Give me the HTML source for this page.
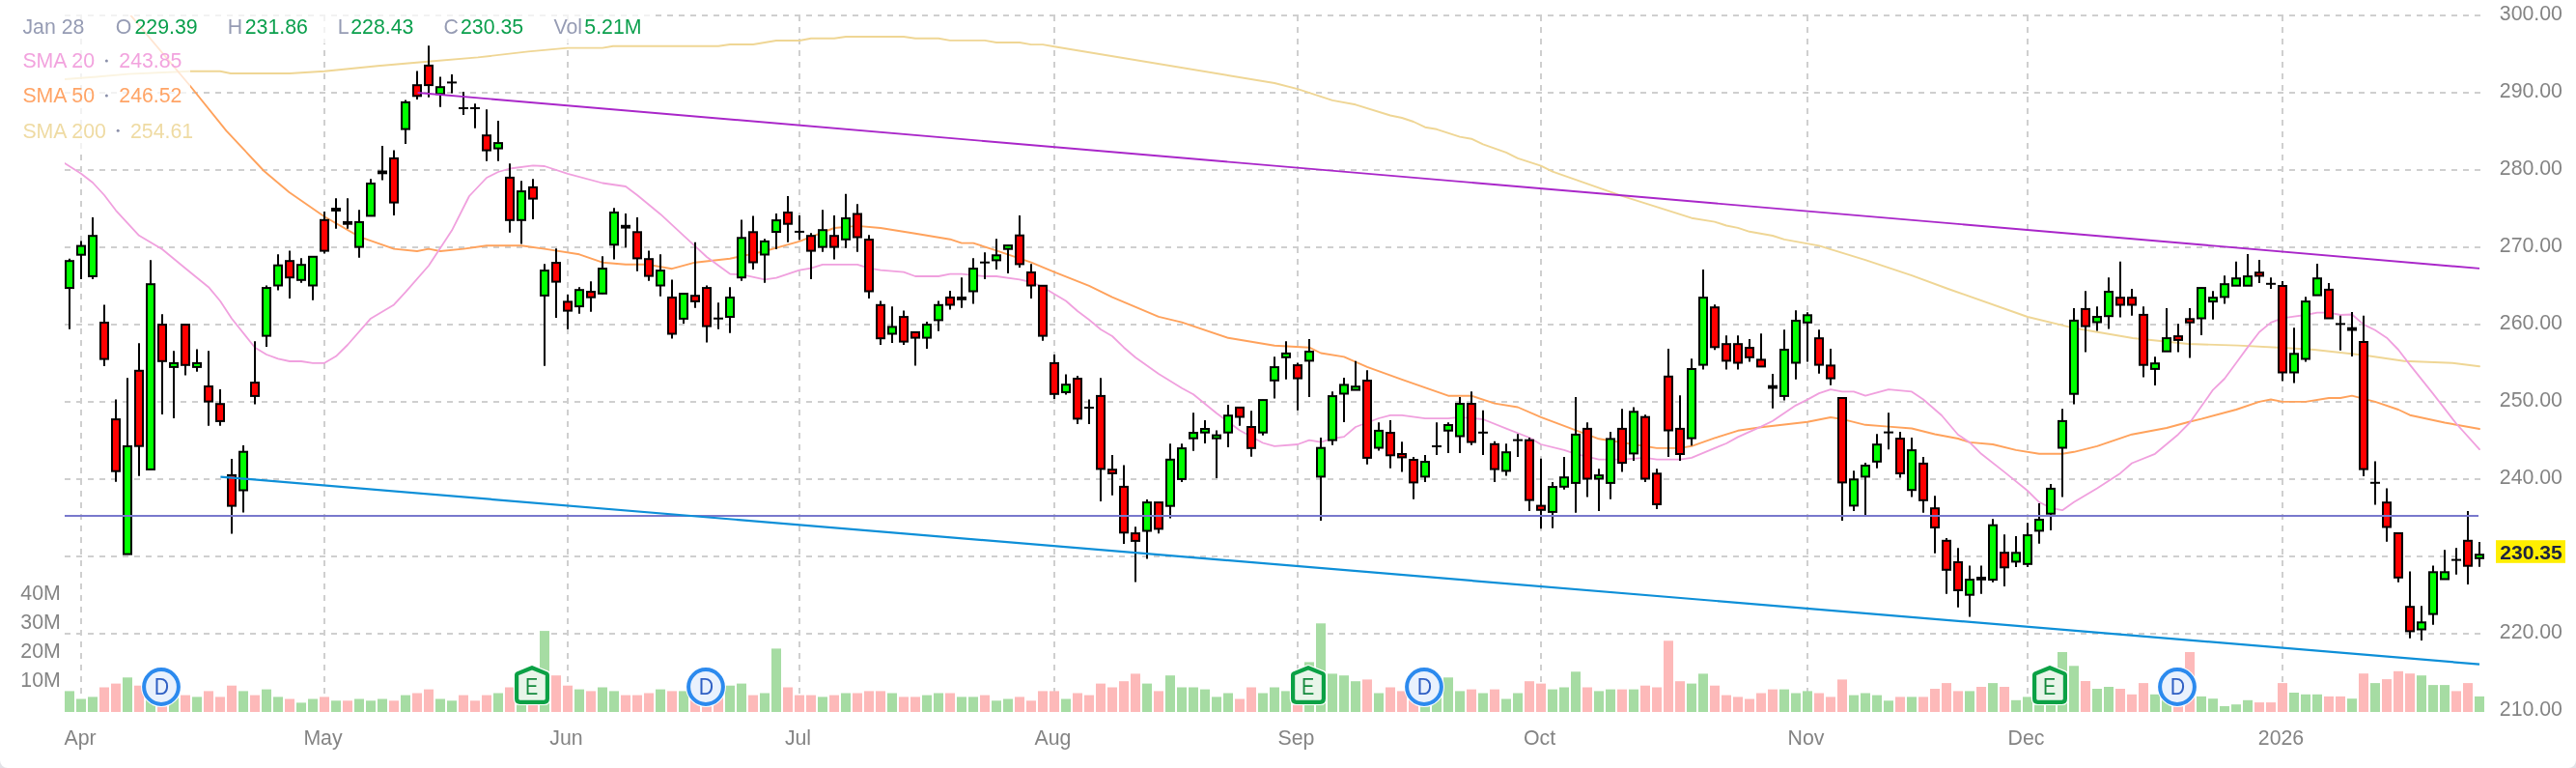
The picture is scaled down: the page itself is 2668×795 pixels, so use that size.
<!DOCTYPE html>
<html><head><meta charset="utf-8"><title>Chart</title><style>html,body{margin:0;padding:0;background:#fff;}body{width:2668px;height:795px;overflow:hidden;}svg{display:block;will-change:transform;}text{font-family:"Liberation Sans",sans-serif;font-size:21.3px;}</style></head><body>
<svg width="2668" height="795" viewBox="0 0 2668 795">
<rect x="0" y="0" width="2668" height="795" fill="#fff"/>
<g stroke="#cfcfcf" stroke-width="2" stroke-dasharray="6 6" fill="none">
<path d="M67 16H2569"/>
<path d="M67 96H2569"/>
<path d="M67 176H2569"/>
<path d="M67 256H2569"/>
<path d="M67 336H2569"/>
<path d="M67 416H2569"/>
<path d="M67 496H2569"/>
<path d="M67 576H2569"/>
<path d="M67 656H2569"/>
<path d="M84 16V737"/>
<path d="M336 16V737"/>
<path d="M588 16V737"/>
<path d="M828 16V737"/>
<path d="M1092 16V737"/>
<path d="M1344 16V737"/>
<path d="M1596 16V737"/>
<path d="M1872 16V737"/>
<path d="M2100 16V737"/>
<path d="M2364 16V737"/>
</g>
<g>
<rect x="67" y="715.4" width="10" height="21.6" fill="#a6dca3"/>
<rect x="79" y="723.5" width="10" height="13.5" fill="#a6dca3"/>
<rect x="91" y="721.4" width="10" height="15.6" fill="#a6dca3"/>
<rect x="103" y="711.5" width="10" height="25.5" fill="#fdb9b9"/>
<rect x="115" y="707.6" width="10" height="29.4" fill="#fdb9b9"/>
<rect x="127" y="701.3" width="10" height="35.7" fill="#a6dca3"/>
<rect x="139" y="709.7" width="10" height="27.3" fill="#fdb9b9"/>
<rect x="151" y="723.0" width="10" height="14.0" fill="#a6dca3"/>
<rect x="163" y="723.0" width="10" height="14.0" fill="#fdb9b9"/>
<rect x="175" y="722.0" width="10" height="15.0" fill="#a6dca3"/>
<rect x="187" y="719.6" width="10" height="17.4" fill="#fdb9b9"/>
<rect x="199" y="721.4" width="10" height="15.6" fill="#a6dca3"/>
<rect x="211" y="715.4" width="10" height="21.6" fill="#fdb9b9"/>
<rect x="223" y="721.4" width="10" height="15.6" fill="#fdb9b9"/>
<rect x="235" y="709.7" width="10" height="27.3" fill="#fdb9b9"/>
<rect x="247" y="715.4" width="10" height="21.6" fill="#a6dca3"/>
<rect x="259" y="719.6" width="10" height="17.4" fill="#fdb9b9"/>
<rect x="271" y="713.6" width="10" height="23.4" fill="#a6dca3"/>
<rect x="283" y="721.4" width="10" height="15.6" fill="#a6dca3"/>
<rect x="295" y="723.5" width="10" height="13.5" fill="#fdb9b9"/>
<rect x="307" y="727.4" width="10" height="9.6" fill="#a6dca3"/>
<rect x="319" y="723.5" width="10" height="13.5" fill="#a6dca3"/>
<rect x="331" y="721.4" width="10" height="15.6" fill="#fdb9b9"/>
<rect x="343" y="725.3" width="10" height="11.7" fill="#a6dca3"/>
<rect x="355" y="725.3" width="10" height="11.7" fill="#fdb9b9"/>
<rect x="367" y="723.5" width="10" height="13.5" fill="#a6dca3"/>
<rect x="379" y="725.3" width="10" height="11.7" fill="#a6dca3"/>
<rect x="391" y="723.5" width="10" height="13.5" fill="#a6dca3"/>
<rect x="403" y="725.3" width="10" height="11.7" fill="#fdb9b9"/>
<rect x="415" y="719.6" width="10" height="17.4" fill="#a6dca3"/>
<rect x="427" y="717.5" width="10" height="19.5" fill="#fdb9b9"/>
<rect x="439" y="713.6" width="10" height="23.4" fill="#fdb9b9"/>
<rect x="451" y="723.5" width="10" height="13.5" fill="#a6dca3"/>
<rect x="463" y="725.3" width="10" height="11.7" fill="#a6dca3"/>
<rect x="475" y="719.6" width="10" height="17.4" fill="#fdb9b9"/>
<rect x="487" y="725.3" width="10" height="11.7" fill="#fdb9b9"/>
<rect x="499" y="719.6" width="10" height="17.4" fill="#fdb9b9"/>
<rect x="511" y="717.5" width="10" height="19.5" fill="#a6dca3"/>
<rect x="523" y="711.5" width="10" height="25.5" fill="#fdb9b9"/>
<rect x="535" y="719.0" width="10" height="18.0" fill="#a6dca3"/>
<rect x="547" y="722.0" width="10" height="15.0" fill="#fdb9b9"/>
<rect x="559" y="653.1" width="10" height="83.9" fill="#a6dca3"/>
<rect x="571" y="699.2" width="10" height="37.8" fill="#fdb9b9"/>
<rect x="583" y="709.7" width="10" height="27.3" fill="#fdb9b9"/>
<rect x="595" y="713.6" width="10" height="23.4" fill="#a6dca3"/>
<rect x="607" y="715.4" width="10" height="21.6" fill="#fdb9b9"/>
<rect x="619" y="711.5" width="10" height="25.5" fill="#a6dca3"/>
<rect x="631" y="715.4" width="10" height="21.6" fill="#a6dca3"/>
<rect x="643" y="719.6" width="10" height="17.4" fill="#fdb9b9"/>
<rect x="655" y="719.6" width="10" height="17.4" fill="#fdb9b9"/>
<rect x="667" y="717.5" width="10" height="19.5" fill="#fdb9b9"/>
<rect x="679" y="713.6" width="10" height="23.4" fill="#a6dca3"/>
<rect x="691" y="715.4" width="10" height="21.6" fill="#fdb9b9"/>
<rect x="703" y="715.4" width="10" height="21.6" fill="#a6dca3"/>
<rect x="715" y="717.0" width="10" height="20.0" fill="#fdb9b9"/>
<rect x="727" y="715.0" width="10" height="22.0" fill="#fdb9b9"/>
<rect x="739" y="721.0" width="10" height="16.0" fill="#fdb9b9"/>
<rect x="751" y="709.7" width="10" height="27.3" fill="#a6dca3"/>
<rect x="763" y="707.6" width="10" height="29.4" fill="#a6dca3"/>
<rect x="775" y="719.6" width="10" height="17.4" fill="#fdb9b9"/>
<rect x="787" y="717.5" width="10" height="19.5" fill="#a6dca3"/>
<rect x="799" y="671.4" width="10" height="65.6" fill="#a6dca3"/>
<rect x="811" y="711.5" width="10" height="25.5" fill="#fdb9b9"/>
<rect x="823" y="719.6" width="10" height="17.4" fill="#fdb9b9"/>
<rect x="835" y="719.6" width="10" height="17.4" fill="#fdb9b9"/>
<rect x="847" y="721.4" width="10" height="15.6" fill="#a6dca3"/>
<rect x="859" y="719.6" width="10" height="17.4" fill="#fdb9b9"/>
<rect x="871" y="717.5" width="10" height="19.5" fill="#a6dca3"/>
<rect x="883" y="717.5" width="10" height="19.5" fill="#fdb9b9"/>
<rect x="895" y="715.4" width="10" height="21.6" fill="#fdb9b9"/>
<rect x="907" y="715.4" width="10" height="21.6" fill="#fdb9b9"/>
<rect x="919" y="717.5" width="10" height="19.5" fill="#a6dca3"/>
<rect x="931" y="721.4" width="10" height="15.6" fill="#fdb9b9"/>
<rect x="943" y="721.4" width="10" height="15.6" fill="#fdb9b9"/>
<rect x="955" y="719.6" width="10" height="17.4" fill="#a6dca3"/>
<rect x="967" y="717.5" width="10" height="19.5" fill="#a6dca3"/>
<rect x="979" y="717.5" width="10" height="19.5" fill="#fdb9b9"/>
<rect x="991" y="721.4" width="10" height="15.6" fill="#a6dca3"/>
<rect x="1003" y="721.4" width="10" height="15.6" fill="#a6dca3"/>
<rect x="1015" y="719.6" width="10" height="17.4" fill="#fdb9b9"/>
<rect x="1027" y="725.3" width="10" height="11.7" fill="#a6dca3"/>
<rect x="1039" y="723.5" width="10" height="13.5" fill="#a6dca3"/>
<rect x="1051" y="721.4" width="10" height="15.6" fill="#fdb9b9"/>
<rect x="1063" y="725.3" width="10" height="11.7" fill="#fdb9b9"/>
<rect x="1075" y="715.4" width="10" height="21.6" fill="#fdb9b9"/>
<rect x="1087" y="715.4" width="10" height="21.6" fill="#fdb9b9"/>
<rect x="1099" y="723.5" width="10" height="13.5" fill="#a6dca3"/>
<rect x="1111" y="717.5" width="10" height="19.5" fill="#fdb9b9"/>
<rect x="1123" y="719.6" width="10" height="17.4" fill="#fdb9b9"/>
<rect x="1135" y="707.6" width="10" height="29.4" fill="#fdb9b9"/>
<rect x="1147" y="711.5" width="10" height="25.5" fill="#fdb9b9"/>
<rect x="1159" y="705.2" width="10" height="31.8" fill="#fdb9b9"/>
<rect x="1171" y="697.4" width="10" height="39.6" fill="#fdb9b9"/>
<rect x="1183" y="707.6" width="10" height="29.4" fill="#a6dca3"/>
<rect x="1195" y="715.4" width="10" height="21.6" fill="#fdb9b9"/>
<rect x="1207" y="699.2" width="10" height="37.8" fill="#a6dca3"/>
<rect x="1219" y="711.5" width="10" height="25.5" fill="#a6dca3"/>
<rect x="1231" y="711.5" width="10" height="25.5" fill="#a6dca3"/>
<rect x="1243" y="713.6" width="10" height="23.4" fill="#a6dca3"/>
<rect x="1255" y="721.4" width="10" height="15.6" fill="#a6dca3"/>
<rect x="1267" y="717.5" width="10" height="19.5" fill="#a6dca3"/>
<rect x="1279" y="723.5" width="10" height="13.5" fill="#fdb9b9"/>
<rect x="1291" y="711.5" width="10" height="25.5" fill="#fdb9b9"/>
<rect x="1303" y="717.5" width="10" height="19.5" fill="#a6dca3"/>
<rect x="1315" y="711.5" width="10" height="25.5" fill="#a6dca3"/>
<rect x="1327" y="715.4" width="10" height="21.6" fill="#a6dca3"/>
<rect x="1339" y="717.0" width="10" height="20.0" fill="#fdb9b9"/>
<rect x="1351" y="685.4" width="10" height="51.6" fill="#a6dca3"/>
<rect x="1363" y="645.3" width="10" height="91.7" fill="#a6dca3"/>
<rect x="1375" y="697.4" width="10" height="39.6" fill="#a6dca3"/>
<rect x="1387" y="699.2" width="10" height="37.8" fill="#a6dca3"/>
<rect x="1399" y="705.2" width="10" height="31.8" fill="#a6dca3"/>
<rect x="1411" y="703.4" width="10" height="33.6" fill="#fdb9b9"/>
<rect x="1423" y="717.5" width="10" height="19.5" fill="#a6dca3"/>
<rect x="1435" y="711.5" width="10" height="25.5" fill="#fdb9b9"/>
<rect x="1447" y="715.4" width="10" height="21.6" fill="#fdb9b9"/>
<rect x="1459" y="715.0" width="10" height="22.0" fill="#fdb9b9"/>
<rect x="1471" y="717.0" width="10" height="20.0" fill="#a6dca3"/>
<rect x="1483" y="715.0" width="10" height="22.0" fill="#a6dca3"/>
<rect x="1495" y="701.3" width="10" height="35.7" fill="#a6dca3"/>
<rect x="1507" y="715.4" width="10" height="21.6" fill="#a6dca3"/>
<rect x="1519" y="713.6" width="10" height="23.4" fill="#fdb9b9"/>
<rect x="1531" y="717.5" width="10" height="19.5" fill="#a6dca3"/>
<rect x="1543" y="713.6" width="10" height="23.4" fill="#fdb9b9"/>
<rect x="1555" y="723.5" width="10" height="13.5" fill="#a6dca3"/>
<rect x="1567" y="717.5" width="10" height="19.5" fill="#a6dca3"/>
<rect x="1579" y="705.2" width="10" height="31.8" fill="#fdb9b9"/>
<rect x="1591" y="707.6" width="10" height="29.4" fill="#fdb9b9"/>
<rect x="1603" y="713.6" width="10" height="23.4" fill="#a6dca3"/>
<rect x="1615" y="711.5" width="10" height="25.5" fill="#a6dca3"/>
<rect x="1627" y="695.3" width="10" height="41.7" fill="#a6dca3"/>
<rect x="1639" y="711.5" width="10" height="25.5" fill="#fdb9b9"/>
<rect x="1651" y="715.4" width="10" height="21.6" fill="#a6dca3"/>
<rect x="1663" y="713.6" width="10" height="23.4" fill="#a6dca3"/>
<rect x="1675" y="713.6" width="10" height="23.4" fill="#fdb9b9"/>
<rect x="1687" y="713.6" width="10" height="23.4" fill="#a6dca3"/>
<rect x="1699" y="709.7" width="10" height="27.3" fill="#fdb9b9"/>
<rect x="1711" y="711.5" width="10" height="25.5" fill="#fdb9b9"/>
<rect x="1723" y="663.3" width="10" height="73.7" fill="#fdb9b9"/>
<rect x="1735" y="705.2" width="10" height="31.8" fill="#fdb9b9"/>
<rect x="1747" y="707.6" width="10" height="29.4" fill="#a6dca3"/>
<rect x="1759" y="697.4" width="10" height="39.6" fill="#a6dca3"/>
<rect x="1771" y="709.7" width="10" height="27.3" fill="#fdb9b9"/>
<rect x="1783" y="719.6" width="10" height="17.4" fill="#fdb9b9"/>
<rect x="1795" y="721.4" width="10" height="15.6" fill="#fdb9b9"/>
<rect x="1807" y="723.5" width="10" height="13.5" fill="#fdb9b9"/>
<rect x="1819" y="717.5" width="10" height="19.5" fill="#fdb9b9"/>
<rect x="1831" y="713.6" width="10" height="23.4" fill="#fdb9b9"/>
<rect x="1843" y="713.6" width="10" height="23.4" fill="#a6dca3"/>
<rect x="1855" y="717.5" width="10" height="19.5" fill="#a6dca3"/>
<rect x="1867" y="715.4" width="10" height="21.6" fill="#a6dca3"/>
<rect x="1879" y="717.5" width="10" height="19.5" fill="#fdb9b9"/>
<rect x="1891" y="721.4" width="10" height="15.6" fill="#fdb9b9"/>
<rect x="1903" y="703.4" width="10" height="33.6" fill="#fdb9b9"/>
<rect x="1915" y="719.6" width="10" height="17.4" fill="#a6dca3"/>
<rect x="1927" y="717.5" width="10" height="19.5" fill="#a6dca3"/>
<rect x="1939" y="719.6" width="10" height="17.4" fill="#a6dca3"/>
<rect x="1951" y="725.3" width="10" height="11.7" fill="#a6dca3"/>
<rect x="1963" y="721.4" width="10" height="15.6" fill="#fdb9b9"/>
<rect x="1975" y="721.4" width="10" height="15.6" fill="#a6dca3"/>
<rect x="1987" y="721.4" width="10" height="15.6" fill="#fdb9b9"/>
<rect x="1999" y="713.0" width="10" height="24.0" fill="#fdb9b9"/>
<rect x="2011" y="707.1" width="10" height="29.9" fill="#fdb9b9"/>
<rect x="2023" y="715.4" width="10" height="21.6" fill="#fdb9b9"/>
<rect x="2035" y="715.4" width="10" height="21.6" fill="#a6dca3"/>
<rect x="2047" y="711.0" width="10" height="26.0" fill="#fdb9b9"/>
<rect x="2059" y="707.1" width="10" height="29.9" fill="#a6dca3"/>
<rect x="2071" y="711.0" width="10" height="26.0" fill="#fdb9b9"/>
<rect x="2083" y="724.8" width="10" height="12.2" fill="#a6dca3"/>
<rect x="2095" y="721.4" width="10" height="15.6" fill="#a6dca3"/>
<rect x="2107" y="717.0" width="10" height="20.0" fill="#a6dca3"/>
<rect x="2119" y="715.0" width="10" height="22.0" fill="#a6dca3"/>
<rect x="2131" y="675.0" width="10" height="62.0" fill="#a6dca3"/>
<rect x="2143" y="689.3" width="10" height="47.7" fill="#a6dca3"/>
<rect x="2155" y="705.0" width="10" height="32.0" fill="#fdb9b9"/>
<rect x="2167" y="713.0" width="10" height="24.0" fill="#a6dca3"/>
<rect x="2179" y="711.0" width="10" height="26.0" fill="#a6dca3"/>
<rect x="2191" y="713.0" width="10" height="24.0" fill="#fdb9b9"/>
<rect x="2203" y="718.8" width="10" height="18.2" fill="#fdb9b9"/>
<rect x="2215" y="707.1" width="10" height="29.9" fill="#fdb9b9"/>
<rect x="2227" y="718.8" width="10" height="18.2" fill="#a6dca3"/>
<rect x="2239" y="719.0" width="10" height="18.0" fill="#a6dca3"/>
<rect x="2251" y="721.0" width="10" height="16.0" fill="#fdb9b9"/>
<rect x="2263" y="675.0" width="10" height="62.0" fill="#fdb9b9"/>
<rect x="2275" y="720.9" width="10" height="16.1" fill="#a6dca3"/>
<rect x="2287" y="723.2" width="10" height="13.8" fill="#a6dca3"/>
<rect x="2299" y="731.0" width="10" height="6.0" fill="#a6dca3"/>
<rect x="2311" y="729.2" width="10" height="7.8" fill="#a6dca3"/>
<rect x="2323" y="724.8" width="10" height="12.2" fill="#a6dca3"/>
<rect x="2335" y="727.1" width="10" height="9.9" fill="#fdb9b9"/>
<rect x="2347" y="727.1" width="10" height="9.9" fill="#fdb9b9"/>
<rect x="2359" y="707.1" width="10" height="29.9" fill="#fdb9b9"/>
<rect x="2371" y="717.0" width="10" height="20.0" fill="#a6dca3"/>
<rect x="2383" y="718.8" width="10" height="18.2" fill="#a6dca3"/>
<rect x="2395" y="718.8" width="10" height="18.2" fill="#a6dca3"/>
<rect x="2407" y="720.9" width="10" height="16.1" fill="#fdb9b9"/>
<rect x="2419" y="720.9" width="10" height="16.1" fill="#fdb9b9"/>
<rect x="2431" y="723.2" width="10" height="13.8" fill="#a6dca3"/>
<rect x="2443" y="697.2" width="10" height="39.8" fill="#fdb9b9"/>
<rect x="2455" y="707.1" width="10" height="29.9" fill="#a6dca3"/>
<rect x="2467" y="703.1" width="10" height="33.9" fill="#fdb9b9"/>
<rect x="2479" y="694.8" width="10" height="42.2" fill="#fdb9b9"/>
<rect x="2491" y="697.2" width="10" height="39.8" fill="#fdb9b9"/>
<rect x="2503" y="699.2" width="10" height="37.8" fill="#a6dca3"/>
<rect x="2515" y="709.1" width="10" height="27.9" fill="#a6dca3"/>
<rect x="2527" y="709.1" width="10" height="27.9" fill="#a6dca3"/>
<rect x="2539" y="715.4" width="10" height="21.6" fill="#fdb9b9"/>
<rect x="2551" y="707.1" width="10" height="29.9" fill="#fdb9b9"/>
<rect x="2563" y="720.9" width="10" height="16.1" fill="#a6dca3"/>
</g>
<defs><clipPath id="cp"><rect x="67" y="16" width="2503" height="721"/></clipPath></defs>
<g clip-path="url(#cp)">
<path d="M67.0 82.0 L100.0 79.5 L133.0 76.6 L197.0 73.8 L228.0 73.8 L239.0 76.0 L300.0 76.0 L336.0 73.7 L391.0 68.2 L443.0 63.8 L495.0 59.4 L547.0 53.4 L588.0 49.6 L624.0 49.6 L635.0 47.8 L744.0 47.8 L756.0 46.0 L780.0 46.0 L804.0 42.0 L828.0 42.0 L840.0 39.8 L864.0 39.8 L876.0 38.0 L936.0 38.0 L948.0 39.8 L972.0 39.8 L984.0 41.9 L1020.0 41.9 L1032.0 44.0 L1056.0 44.0 L1068.0 46.1 L1080.0 46.1 L1092.0 48.2 L1320.0 86.0 L1344.0 92.1 L1380.0 103.9 L1404.0 108.3 L1440.0 119.5 L1452.0 122.0 L1464.0 126.0 L1476.0 131.7 L1488.0 133.8 L1512.0 141.6 L1524.0 143.7 L1536.0 149.4 L1560.0 157.8 L1572.0 163.8 L1596.0 171.6 L1608.0 177.6 L1680.0 202.8 L1752.0 225.7 L1776.0 229.6 L1788.0 233.5 L1800.0 235.9 L1812.0 239.8 L1836.0 244.0 L1848.0 247.9 L1884.0 254.4 L1932.0 269.2 L1980.0 285.2 L2019.0 299.5 L2100.0 328.0 L2149.0 339.8 L2209.0 350.0 L2266.0 356.0 L2318.0 357.6 L2364.0 360.0 L2397.0 362.0 L2449.0 367.7 L2490.0 373.7 L2540.0 375.8 L2568.0 379.2" fill="none" stroke="#efd695" stroke-width="1.9" stroke-linejoin="round" stroke-linecap="round" />
<path d="M125.0 4.0 L135.0 15.5 L197.0 89.0 L234.4 135.4 L273.4 177.0 L299.5 199.0 L336.0 224.3 L372.4 245.1 L408.0 257.6 L432.0 260.0 L444.0 257.6 L456.0 260.0 L480.0 257.6 L504.0 254.2 L540.0 254.2 L564.0 257.6 L600.0 263.3 L624.0 271.7 L648.0 273.8 L670.0 273.8 L696.0 278.2 L720.0 271.7 L756.0 267.8 L792.0 260.0 L828.0 249.8 L864.0 236.0 L888.0 233.9 L912.0 236.0 L948.0 241.7 L984.0 247.7 L996.0 251.6 L1008.0 251.6 L1032.0 259.4 L1068.0 271.7 L1092.0 281.6 L1128.0 295.9 L1152.0 307.6 L1200.0 327.9 L1224.0 333.6 L1272.0 349.8 L1320.0 357.8 L1356.0 359.7 L1368.0 365.5 L1392.0 369.4 L1416.0 379.8 L1452.0 392.8 L1500.0 409.7 L1524.0 409.7 L1548.0 417.6 L1572.0 421.5 L1596.0 431.9 L1632.0 445.4 L1656.0 454.3 L1692.0 460.0 L1716.0 463.9 L1740.0 463.9 L1752.0 461.8 L1776.0 453.4 L1800.0 445.8 L1824.0 442.2 L1872.0 436.8 L1896.0 432.0 L1908.0 433.9 L1932.0 439.8 L1956.0 441.6 L1980.0 443.5 L2004.0 449.5 L2028.0 454.0 L2040.0 457.9 L2064.0 460.0 L2088.0 465.9 L2112.0 469.8 L2136.0 469.8 L2148.0 467.8 L2172.0 461.8 L2208.0 449.7 L2244.0 443.0 L2268.0 436.5 L2280.0 433.6 L2316.0 424.0 L2340.0 415.9 L2352.0 413.5 L2364.0 415.9 L2388.0 415.9 L2412.0 412.0 L2424.0 412.0 L2436.0 409.6 L2460.0 415.9 L2484.0 424.0 L2496.0 429.7 L2532.0 437.5 L2568.0 444.0" fill="none" stroke="#ffa25c" stroke-width="1.9" stroke-linejoin="round" stroke-linecap="round" />
<path d="M67.0 169.0 L84.0 179.7 L96.0 189.0 L108.0 202.0 L120.0 217.8 L144.0 243.8 L168.0 258.0 L192.0 277.7 L216.0 297.2 L228.0 311.5 L240.0 329.7 L264.0 359.7 L276.0 367.0 L288.0 371.4 L300.0 374.0 L312.0 374.0 L324.0 375.8 L336.0 375.8 L348.0 368.8 L360.0 357.0 L384.0 329.7 L408.0 315.4 L420.0 302.4 L444.0 275.0 L468.0 238.6 L486.0 203.0 L504.0 184.0 L516.0 178.0 L528.0 174.5 L552.0 171.4 L564.0 172.0 L588.0 179.8 L624.0 189.5 L648.0 193.0 L660.0 202.0 L684.0 221.7 L708.0 243.8 L732.0 266.0 L756.0 283.6 L768.0 284.2 L792.0 289.4 L804.0 287.6 L828.0 279.7 L840.0 277.7 L852.0 273.8 L888.0 273.8 L900.0 277.7 L912.0 279.7 L936.0 281.6 L948.0 286.0 L972.0 286.0 L984.0 283.6 L996.0 283.6 L1020.0 286.0 L1032.0 286.0 L1056.0 289.4 L1068.0 292.0 L1080.0 297.2 L1104.0 311.5 L1116.0 322.0 L1128.0 331.0 L1140.0 341.0 L1152.0 348.0 L1164.0 359.7 L1176.0 370.0 L1200.0 386.9 L1224.0 401.7 L1236.0 408.2 L1260.0 427.8 L1284.0 445.5 L1308.0 458.5 L1320.0 461.8 L1344.0 460.0 L1356.0 455.6 L1368.0 457.6 L1380.0 454.0 L1392.0 452.1 L1404.0 442.0 L1428.0 433.0 L1440.0 429.8 L1452.0 429.8 L1476.0 433.2 L1500.0 433.2 L1512.0 431.9 L1536.0 434.0 L1560.0 443.6 L1584.0 453.0 L1596.0 460.0 L1620.0 465.9 L1632.0 469.8 L1656.0 475.6 L1680.0 475.6 L1704.0 473.8 L1716.0 475.6 L1740.0 475.6 L1752.0 473.8 L1776.0 463.9 L1788.0 459.0 L1800.0 452.4 L1824.0 441.6 L1836.0 435.8 L1860.0 419.6 L1872.0 413.6 L1884.0 407.1 L1896.0 403.2 L1908.0 405.3 L1920.0 405.3 L1932.0 409.7 L1956.0 403.2 L1980.0 405.4 L1992.0 413.5 L2011.0 430.0 L2028.0 450.0 L2040.0 457.9 L2052.0 469.8 L2076.0 488.6 L2100.0 508.0 L2112.0 519.8 L2124.0 525.8 L2136.0 528.2 L2148.0 519.8 L2172.0 505.5 L2196.0 489.9 L2208.0 479.5 L2232.0 469.8 L2256.0 449.7 L2268.0 437.5 L2292.0 403.6 L2304.0 392.0 L2316.0 375.8 L2328.0 359.4 L2340.0 343.8 L2352.0 333.9 L2364.0 329.4 L2376.0 327.6 L2388.0 326.0 L2400.0 323.7 L2412.0 323.7 L2424.0 326.0 L2436.0 325.5 L2448.0 335.9 L2460.0 341.7 L2472.0 349.7 L2484.0 362.0 L2496.0 377.6 L2520.0 407.6 L2544.0 438.5 L2568.0 465.2" fill="none" stroke="#f0a0de" stroke-width="1.8" stroke-linejoin="round" stroke-linecap="round" />
</g>
<g stroke="#000" stroke-width="2">
<path d="M72 267.8V340.7" fill="none"/>
<rect x="68" y="270.2" width="8" height="27.9" fill="#00ff00"/>
<path d="M84 249.5V288.9" fill="none"/>
<rect x="80" y="254.6" width="8" height="9.1" fill="#00ff00"/>
<path d="M96 225.0V288.9" fill="none"/>
<rect x="92" y="244.2" width="8" height="41.7" fill="#00ff00"/>
<path d="M108 315.4V379.0" fill="none"/>
<rect x="104" y="334.0" width="8" height="37.6" fill="#ff0000"/>
<path d="M120 413.4V498.8" fill="none"/>
<rect x="116" y="434.1" width="8" height="53.6" fill="#ff0000"/>
<path d="M132 391.3V574.0" fill="none"/>
<rect x="128" y="462.0" width="8" height="111.6" fill="#00ff00"/>
<path d="M144 355.3V492.8" fill="none"/>
<rect x="140" y="383.8" width="8" height="77.9" fill="#ff0000"/>
<path d="M156 269.3V486.3" fill="none"/>
<rect x="152" y="294.2" width="8" height="191.7" fill="#00ff00"/>
<path d="M168 325.3V429.0" fill="none"/>
<rect x="164" y="336.1" width="8" height="37.7" fill="#ff0000"/>
<path d="M180 363.3V432.9" fill="none"/>
<rect x="176" y="375.9" width="8" height="4.0" fill="#00ff00"/>
<path d="M192 335.7V388.6" fill="none"/>
<rect x="188" y="336.1" width="8" height="41.7" fill="#ff0000"/>
<path d="M204 361.4V384.7" fill="none"/>
<rect x="200" y="375.9" width="8" height="4.0" fill="#00ff00"/>
<path d="M216 363.3V440.7" fill="none"/>
<rect x="212" y="400.0" width="8" height="15.6" fill="#ff0000"/>
<path d="M228 403.0V440.7" fill="none"/>
<rect x="224" y="418.2" width="8" height="17.7" fill="#ff0000"/>
<path d="M240 475.1V552.5" fill="none"/>
<rect x="236" y="491.9" width="8" height="31.7" fill="#ff0000"/>
<path d="M252 461.0V530.6" fill="none"/>
<rect x="248" y="467.7" width="8" height="39.8" fill="#00ff00"/>
<path d="M264 353.2V418.6" fill="none"/>
<rect x="260" y="396.1" width="8" height="13.8" fill="#ff0000"/>
<path d="M276 295.4V358.9" fill="none"/>
<rect x="272" y="298.1" width="8" height="49.5" fill="#00ff00"/>
<path d="M288 263.3V300.6" fill="none"/>
<rect x="284" y="274.7" width="8" height="20.8" fill="#00ff00"/>
<path d="M300 259.4V308.9" fill="none"/>
<rect x="296" y="270.2" width="8" height="17.0" fill="#ff0000"/>
<path d="M312 267.2V292.8" fill="none"/>
<rect x="308" y="274.2" width="8" height="15.6" fill="#00ff00"/>
<path d="M324 265.4V310.7" fill="none"/>
<rect x="320" y="265.8" width="8" height="29.7" fill="#00ff00"/>
<path d="M336 219.0V262.6" fill="none"/>
<rect x="332" y="227.8" width="8" height="31.8" fill="#ff0000"/>
<path d="M348 205.3V236.8" fill="none"/>
<rect x="343" y="215.1" width="10" height="3.8" fill="#000" stroke="none"/>
<path d="M360 205.3V236.8" fill="none"/>
<rect x="355" y="228.9" width="10" height="3.8" fill="#000" stroke="none"/>
<path d="M372 217.2V266.7" fill="none"/>
<rect x="368" y="229.9" width="8" height="25.7" fill="#00ff00"/>
<path d="M384 185.2V223.8" fill="none"/>
<rect x="380" y="190.0" width="8" height="33.4" fill="#00ff00"/>
<path d="M396 151.0V186.6" fill="none"/>
<rect x="391" y="176.5" width="10" height="3.8" fill="#000" stroke="none"/>
<path d="M408 155.5V223.0" fill="none"/>
<rect x="404" y="163.9" width="8" height="45.7" fill="#ff0000"/>
<path d="M420 103.4V149.0" fill="none"/>
<rect x="416" y="105.9" width="8" height="27.7" fill="#00ff00"/>
<path d="M432 73.4V102.9" fill="none"/>
<rect x="428" y="88.2" width="8" height="11.1" fill="#ff0000"/>
<path d="M444 47.2V100.8" fill="none"/>
<rect x="440" y="67.9" width="8" height="20.2" fill="#ff0000"/>
<path d="M456 79.4V110.7" fill="none"/>
<rect x="452" y="90.2" width="8" height="7.1" fill="#00ff00"/>
<path d="M468 77.0V96.4" fill="none"/>
<path d="M463 85.4H473" fill="none"/>
<path d="M480 95.0V119.0" fill="none"/>
<path d="M475 112.0H485" fill="none"/>
<path d="M492 107.3V132.8" fill="none"/>
<path d="M487 112.0H497" fill="none"/>
<path d="M504 113.3V166.7" fill="none"/>
<rect x="500" y="140.2" width="8" height="15.4" fill="#ff0000"/>
<path d="M516 125.0V166.7" fill="none"/>
<rect x="512" y="148.1" width="8" height="5.5" fill="#00ff00"/>
<path d="M528 169.3V240.7" fill="none"/>
<rect x="524" y="183.9" width="8" height="43.9" fill="#ff0000"/>
<path d="M540 187.3V252.4" fill="none"/>
<rect x="536" y="198.1" width="8" height="29.7" fill="#00ff00"/>
<path d="M552 185.2V226.9" fill="none"/>
<rect x="548" y="193.9" width="8" height="11.7" fill="#ff0000"/>
<path d="M564 273.2V378.8" fill="none"/>
<rect x="560" y="280.1" width="8" height="25.8" fill="#00ff00"/>
<path d="M576 257.3V329.0" fill="none"/>
<rect x="572" y="272.1" width="8" height="19.5" fill="#ff0000"/>
<path d="M588 305.0V340.7" fill="none"/>
<rect x="584" y="312.4" width="8" height="9.2" fill="#ff0000"/>
<path d="M600 297.2V324.8" fill="none"/>
<rect x="596" y="300.2" width="8" height="16.9" fill="#00ff00"/>
<path d="M612 291.2V322.7" fill="none"/>
<rect x="608" y="302.0" width="8" height="5.7" fill="#ff0000"/>
<path d="M624 265.2V304.2" fill="none"/>
<rect x="620" y="278.1" width="8" height="25.7" fill="#00ff00"/>
<path d="M636 215.2V268.5" fill="none"/>
<rect x="632" y="220.0" width="8" height="33.3" fill="#00ff00"/>
<path d="M648 221.1V256.3" fill="none"/>
<rect x="643" y="232.8" width="10" height="3.8" fill="#000" stroke="none"/>
<path d="M660 225.0V280.8" fill="none"/>
<rect x="656" y="240.3" width="8" height="27.1" fill="#ff0000"/>
<path d="M672 259.4V290.7" fill="none"/>
<rect x="668" y="268.2" width="8" height="17.4" fill="#ff0000"/>
<path d="M684 263.3V306.8" fill="none"/>
<rect x="680" y="280.1" width="8" height="15.4" fill="#00ff00"/>
<path d="M696 289.4V350.6" fill="none"/>
<rect x="692" y="308.0" width="8" height="37.5" fill="#ff0000"/>
<path d="M708 303.7V335.0" fill="none"/>
<rect x="704" y="304.1" width="8" height="25.8" fill="#00ff00"/>
<path d="M720 250.8V318.8" fill="none"/>
<rect x="716" y="306.2" width="8" height="5.7" fill="#ff0000"/>
<path d="M732 295.4V354.5" fill="none"/>
<rect x="728" y="298.1" width="8" height="39.5" fill="#ff0000"/>
<path d="M744 313.3V340.7" fill="none"/>
<path d="M739 329.7H749" fill="none"/>
<path d="M756 297.2V344.8" fill="none"/>
<rect x="752" y="308.0" width="8" height="20.0" fill="#00ff00"/>
<path d="M768 227.4V290.7" fill="none"/>
<rect x="764" y="246.3" width="8" height="40.9" fill="#00ff00"/>
<path d="M780 223.5V279.0" fill="none"/>
<rect x="776" y="240.3" width="8" height="31.2" fill="#ff0000"/>
<path d="M792 247.2V292.8" fill="none"/>
<rect x="788" y="249.9" width="8" height="13.6" fill="#00ff00"/>
<path d="M804 221.1V258.1" fill="none"/>
<rect x="800" y="228.1" width="8" height="11.9" fill="#00ff00"/>
<path d="M816 202.9V250.8" fill="none"/>
<rect x="812" y="220.0" width="8" height="11.7" fill="#ff0000"/>
<path d="M828 223.0V248.2" fill="none"/>
<path d="M823 239.9H833" fill="none"/>
<path d="M840 241.2V288.9" fill="none"/>
<rect x="836" y="244.2" width="8" height="15.4" fill="#ff0000"/>
<path d="M852 217.2V260.7" fill="none"/>
<rect x="848" y="238.2" width="8" height="17.4" fill="#00ff00"/>
<path d="M864 223.0V268.5" fill="none"/>
<rect x="860" y="244.2" width="8" height="11.4" fill="#ff0000"/>
<path d="M876 200.8V256.8" fill="none"/>
<rect x="872" y="226.0" width="8" height="21.8" fill="#00ff00"/>
<path d="M888 211.3V260.7" fill="none"/>
<rect x="884" y="221.5" width="8" height="24.0" fill="#ff0000"/>
<path d="M900 243.3V308.9" fill="none"/>
<rect x="896" y="248.1" width="8" height="53.4" fill="#ff0000"/>
<path d="M912 311.5V357.0" fill="none"/>
<rect x="908" y="315.8" width="8" height="34.4" fill="#ff0000"/>
<path d="M924 317.2V355.0" fill="none"/>
<rect x="920" y="338.4" width="8" height="7.1" fill="#00ff00"/>
<path d="M936 321.4V357.0" fill="none"/>
<rect x="932" y="328.1" width="8" height="25.5" fill="#ff0000"/>
<path d="M948 343.5V378.6" fill="none"/>
<rect x="944" y="343.9" width="8" height="5.7" fill="#ff0000"/>
<path d="M960 333.1V361.0" fill="none"/>
<rect x="956" y="336.1" width="8" height="13.5" fill="#00ff00"/>
<path d="M972 311.5V342.8" fill="none"/>
<rect x="968" y="315.8" width="8" height="15.6" fill="#00ff00"/>
<path d="M984 301.0V320.6" fill="none"/>
<rect x="980" y="308.0" width="8" height="7.5" fill="#ff0000"/>
<path d="M996 287.3V318.8" fill="none"/>
<rect x="991" y="307.0" width="10" height="3.8" fill="#000" stroke="none"/>
<path d="M1008 267.2V314.6" fill="none"/>
<rect x="1004" y="278.1" width="8" height="23.4" fill="#00ff00"/>
<path d="M1020 261.3V288.9" fill="none"/>
<path d="M1015 271.7H1025" fill="none"/>
<path d="M1032 247.2V279.0" fill="none"/>
<rect x="1028" y="264.3" width="8" height="5.1" fill="#00ff00"/>
<path d="M1044 253.7V282.9" fill="none"/>
<rect x="1040" y="254.1" width="8" height="3.6" fill="#00ff00"/>
<path d="M1056 223.0V276.9" fill="none"/>
<rect x="1052" y="243.7" width="8" height="29.7" fill="#ff0000"/>
<path d="M1068 273.2V308.9" fill="none"/>
<rect x="1064" y="282.0" width="8" height="13.5" fill="#ff0000"/>
<path d="M1080 295.4V352.7" fill="none"/>
<rect x="1076" y="295.8" width="8" height="51.8" fill="#ff0000"/>
<path d="M1092 366.9V412.9" fill="none"/>
<rect x="1088" y="375.9" width="8" height="31.9" fill="#ff0000"/>
<path d="M1104 387.4V408.5" fill="none"/>
<rect x="1100" y="398.2" width="8" height="7.8" fill="#00ff00"/>
<path d="M1116 389.0V439.0" fill="none"/>
<rect x="1112" y="392.0" width="8" height="41.4" fill="#ff0000"/>
<path d="M1128 413.4V439.0" fill="none"/>
<path d="M1123 422.0H1133" fill="none"/>
<path d="M1140 391.3V518.9" fill="none"/>
<rect x="1136" y="409.9" width="8" height="75.5" fill="#ff0000"/>
<path d="M1152 471.0V512.7" fill="none"/>
<rect x="1148" y="486.2" width="8" height="3.7" fill="#ff0000"/>
<path d="M1164 481.4V562.9" fill="none"/>
<rect x="1160" y="503.9" width="8" height="47.4" fill="#ff0000"/>
<path d="M1176 545.2V602.5" fill="none"/>
<rect x="1172" y="552.1" width="8" height="7.8" fill="#ff0000"/>
<path d="M1188 517.0V578.5" fill="none"/>
<rect x="1184" y="520.1" width="8" height="29.4" fill="#00ff00"/>
<path d="M1200 519.7V552.2" fill="none"/>
<rect x="1196" y="520.1" width="8" height="27.3" fill="#ff0000"/>
<path d="M1212 459.3V536.6" fill="none"/>
<rect x="1208" y="475.8" width="8" height="47.9" fill="#00ff00"/>
<path d="M1224 459.3V498.9" fill="none"/>
<rect x="1220" y="464.1" width="8" height="31.8" fill="#00ff00"/>
<path d="M1236 427.2V466.8" fill="none"/>
<rect x="1232" y="448.0" width="8" height="5.7" fill="#00ff00"/>
<path d="M1248 435.1V459.0" fill="none"/>
<rect x="1244" y="444.0" width="8" height="3.7" fill="#00ff00"/>
<path d="M1260 445.5V495.0" fill="none"/>
<rect x="1256" y="450.6" width="8" height="3.1" fill="#00ff00"/>
<path d="M1272 418.9V462.9" fill="none"/>
<rect x="1268" y="430.2" width="8" height="17.5" fill="#00ff00"/>
<path d="M1284 421.5V440.8" fill="none"/>
<rect x="1280" y="421.9" width="8" height="9.6" fill="#ff0000"/>
<path d="M1296 425.2V472.8" fill="none"/>
<rect x="1292" y="442.0" width="8" height="21.8" fill="#ff0000"/>
<path d="M1308 413.7V450.7" fill="none"/>
<rect x="1304" y="414.1" width="8" height="33.6" fill="#00ff00"/>
<path d="M1320 369.3V412.6" fill="none"/>
<rect x="1316" y="380.1" width="8" height="13.7" fill="#00ff00"/>
<path d="M1332 353.2V392.8" fill="none"/>
<rect x="1328" y="365.9" width="8" height="3.9" fill="#00ff00"/>
<path d="M1344 375.4V424.8" fill="none"/>
<rect x="1340" y="378.1" width="8" height="13.5" fill="#ff0000"/>
<path d="M1356 351.1V411.0" fill="none"/>
<rect x="1352" y="364.0" width="8" height="9.4" fill="#00ff00"/>
<path d="M1368 453.0V538.9" fill="none"/>
<rect x="1364" y="463.7" width="8" height="29.7" fill="#00ff00"/>
<path d="M1380 405.3V460.7" fill="none"/>
<rect x="1376" y="410.1" width="8" height="45.5" fill="#00ff00"/>
<path d="M1392 391.0V437.0" fill="none"/>
<rect x="1388" y="398.4" width="8" height="9.1" fill="#00ff00"/>
<path d="M1404 373.8V404.0" fill="none"/>
<rect x="1400" y="400.2" width="8" height="3.4" fill="#00ff00"/>
<path d="M1416 383.2V480.8" fill="none"/>
<rect x="1412" y="394.0" width="8" height="79.9" fill="#ff0000"/>
<path d="M1428 437.2V466.5" fill="none"/>
<rect x="1424" y="445.9" width="8" height="17.6" fill="#00ff00"/>
<path d="M1440 435.1V484.7" fill="none"/>
<rect x="1436" y="448.0" width="8" height="23.3" fill="#ff0000"/>
<path d="M1452 457.3V488.6" fill="none"/>
<rect x="1448" y="470.0" width="8" height="3.4" fill="#ff0000"/>
<path d="M1464 473.0V516.7" fill="none"/>
<rect x="1460" y="476.0" width="8" height="23.4" fill="#ff0000"/>
<path d="M1476 471.1V499.0" fill="none"/>
<rect x="1472" y="478.1" width="8" height="15.3" fill="#00ff00"/>
<path d="M1488 437.2V470.9" fill="none"/>
<path d="M1483 462.0H1493" fill="none"/>
<path d="M1500 437.2V469.1" fill="none"/>
<rect x="1496" y="440.0" width="8" height="5.7" fill="#00ff00"/>
<path d="M1512 411.0V469.1" fill="none"/>
<rect x="1508" y="418.0" width="8" height="33.5" fill="#00ff00"/>
<path d="M1524 405.3V460.7" fill="none"/>
<rect x="1520" y="418.0" width="8" height="39.5" fill="#ff0000"/>
<path d="M1536 424.8V470.9" fill="none"/>
<path d="M1531 447.8H1541" fill="none"/>
<path d="M1548 456.8V499.0" fill="none"/>
<rect x="1544" y="459.8" width="8" height="25.8" fill="#ff0000"/>
<path d="M1560 459.2V492.5" fill="none"/>
<rect x="1556" y="468.2" width="8" height="19.2" fill="#00ff00"/>
<path d="M1572 449.3V473.0" fill="none"/>
<path d="M1567 455.6H1577" fill="none"/>
<path d="M1584 452.9V529.0" fill="none"/>
<rect x="1580" y="455.7" width="8" height="61.9" fill="#ff0000"/>
<path d="M1596 474.8V547.2" fill="none"/>
<rect x="1592" y="523.6" width="8" height="4.2" fill="#ff0000"/>
<path d="M1608 499.0V546.7" fill="none"/>
<rect x="1604" y="504.1" width="8" height="25.8" fill="#00ff00"/>
<path d="M1620 473.0V506.8" fill="none"/>
<rect x="1616" y="494.2" width="8" height="9.6" fill="#00ff00"/>
<path d="M1632 411.0V530.8" fill="none"/>
<rect x="1628" y="449.9" width="8" height="50.0" fill="#00ff00"/>
<path d="M1644 437.2V514.6" fill="none"/>
<rect x="1640" y="443.9" width="8" height="51.6" fill="#ff0000"/>
<path d="M1656 485.2V529.0" fill="none"/>
<rect x="1652" y="492.1" width="8" height="3.4" fill="#00ff00"/>
<path d="M1668 447.0V516.7" fill="none"/>
<rect x="1664" y="454.4" width="8" height="45.5" fill="#00ff00"/>
<path d="M1680 423.3V488.6" fill="none"/>
<rect x="1676" y="443.9" width="8" height="35.2" fill="#ff0000"/>
<path d="M1692 421.5V476.9" fill="none"/>
<rect x="1688" y="426.3" width="8" height="43.1" fill="#00ff00"/>
<path d="M1704 429.3V499.0" fill="none"/>
<rect x="1700" y="431.7" width="8" height="63.8" fill="#ff0000"/>
<path d="M1716 485.2V526.9" fill="none"/>
<rect x="1712" y="490.3" width="8" height="31.7" fill="#ff0000"/>
<path d="M1728 361.0V473.0" fill="none"/>
<rect x="1724" y="389.8" width="8" height="55.7" fill="#ff0000"/>
<path d="M1740 409.2V476.9" fill="none"/>
<rect x="1736" y="443.9" width="8" height="26.1" fill="#ff0000"/>
<path d="M1752 371.2V461.3" fill="none"/>
<rect x="1748" y="382.0" width="8" height="71.6" fill="#00ff00"/>
<path d="M1764 279.0V382.4" fill="none"/>
<rect x="1760" y="308.1" width="8" height="69.5" fill="#00ff00"/>
<path d="M1776 315.2V362.3" fill="none"/>
<rect x="1772" y="318.2" width="8" height="41.1" fill="#ff0000"/>
<path d="M1788 347.2V382.4" fill="none"/>
<rect x="1784" y="356.2" width="8" height="17.2" fill="#ff0000"/>
<path d="M1800 347.2V382.4" fill="none"/>
<rect x="1796" y="356.2" width="8" height="19.3" fill="#ff0000"/>
<path d="M1812 351.1V374.6" fill="none"/>
<rect x="1808" y="360.1" width="8" height="9.7" fill="#ff0000"/>
<path d="M1824 345.2V379.8" fill="none"/>
<rect x="1820" y="372.4" width="8" height="7.0" fill="#ff0000"/>
<path d="M1836 387.1V422.8" fill="none"/>
<rect x="1831" y="398.7" width="10" height="3.8" fill="#000" stroke="none"/>
<path d="M1848 341.3V414.4" fill="none"/>
<rect x="1844" y="362.0" width="8" height="47.9" fill="#00ff00"/>
<path d="M1860 321.2V392.8" fill="none"/>
<rect x="1856" y="332.0" width="8" height="43.5" fill="#00ff00"/>
<path d="M1872 323.3V374.6" fill="none"/>
<rect x="1868" y="326.3" width="8" height="7.5" fill="#00ff00"/>
<path d="M1884 341.3V386.8" fill="none"/>
<rect x="1880" y="350.2" width="8" height="27.4" fill="#ff0000"/>
<path d="M1896 361.0V398.8" fill="none"/>
<rect x="1892" y="378.4" width="8" height="13.2" fill="#ff0000"/>
<path d="M1908 411.6V538.9" fill="none"/>
<rect x="1904" y="412.0" width="8" height="87.4" fill="#ff0000"/>
<path d="M1920 487.3V529.0" fill="none"/>
<rect x="1916" y="496.3" width="8" height="27.1" fill="#00ff00"/>
<path d="M1932 479.0V534.2" fill="none"/>
<rect x="1928" y="482.0" width="8" height="11.4" fill="#00ff00"/>
<path d="M1944 449.3V484.7" fill="none"/>
<rect x="1940" y="460.2" width="8" height="17.6" fill="#00ff00"/>
<path d="M1956 427.2V465.2" fill="none"/>
<path d="M1951 447.6H1961" fill="none"/>
<path d="M1968 446.9V494.6" fill="none"/>
<rect x="1964" y="454.1" width="8" height="35.9" fill="#ff0000"/>
<path d="M1980 453.0V514.6" fill="none"/>
<rect x="1976" y="466.1" width="8" height="41.1" fill="#00ff00"/>
<path d="M1992 473.0V530.8" fill="none"/>
<rect x="1988" y="479.9" width="8" height="37.9" fill="#ff0000"/>
<path d="M2004 513.3V572.7" fill="none"/>
<rect x="2000" y="526.2" width="8" height="19.8" fill="#ff0000"/>
<path d="M2016 557.1V614.8" fill="none"/>
<rect x="2012" y="559.8" width="8" height="30.0" fill="#ff0000"/>
<path d="M2028 567.2V628.7" fill="none"/>
<rect x="2024" y="582.0" width="8" height="29.0" fill="#ff0000"/>
<path d="M2040 585.4V638.6" fill="none"/>
<rect x="2036" y="600.1" width="8" height="15.6" fill="#00ff00"/>
<path d="M2052 585.4V614.8" fill="none"/>
<rect x="2047" y="597.0" width="10" height="3.8" fill="#000" stroke="none"/>
<path d="M2064 537.3V602.8" fill="none"/>
<rect x="2060" y="543.7" width="8" height="56.4" fill="#00ff00"/>
<path d="M2076 553.2V607.0" fill="none"/>
<rect x="2072" y="572.2" width="8" height="15.1" fill="#ff0000"/>
<path d="M2088 555.0V587.0" fill="none"/>
<rect x="2084" y="572.3" width="8" height="9.1" fill="#00ff00"/>
<path d="M2100 541.2V587.0" fill="none"/>
<rect x="2096" y="554.1" width="8" height="29.7" fill="#00ff00"/>
<path d="M2112 521.1V562.8" fill="none"/>
<rect x="2108" y="538.0" width="8" height="11.4" fill="#00ff00"/>
<path d="M2124 501.1V549.0" fill="none"/>
<rect x="2120" y="505.9" width="8" height="25.8" fill="#00ff00"/>
<path d="M2136 423.2V514.6" fill="none"/>
<rect x="2132" y="435.9" width="8" height="27.6" fill="#00ff00"/>
<path d="M2148 319.0V418.5" fill="none"/>
<rect x="2144" y="331.9" width="8" height="75.8" fill="#00ff00"/>
<path d="M2160 301.3V364.6" fill="none"/>
<rect x="2156" y="319.9" width="8" height="17.7" fill="#ff0000"/>
<path d="M2172 317.2V342.4" fill="none"/>
<rect x="2168" y="328.0" width="8" height="5.5" fill="#00ff00"/>
<path d="M2184 287.2V340.6" fill="none"/>
<rect x="2180" y="302.0" width="8" height="25.2" fill="#00ff00"/>
<path d="M2196 270.8V328.6" fill="none"/>
<rect x="2192" y="308.2" width="8" height="7.3" fill="#ff0000"/>
<path d="M2208 299.0V326.8" fill="none"/>
<rect x="2204" y="308.2" width="8" height="7.3" fill="#ff0000"/>
<path d="M2220 317.2V390.6" fill="none"/>
<rect x="2216" y="325.9" width="8" height="51.8" fill="#ff0000"/>
<path d="M2232 369.3V399.0" fill="none"/>
<rect x="2228" y="376.2" width="8" height="5.7" fill="#00ff00"/>
<path d="M2244 319.0V364.1" fill="none"/>
<rect x="2240" y="350.1" width="8" height="13.6" fill="#00ff00"/>
<path d="M2256 335.2V364.6" fill="none"/>
<rect x="2252" y="348.1" width="8" height="3.8" fill="#ff0000"/>
<path d="M2268 319.0V370.6" fill="none"/>
<rect x="2264" y="330.3" width="8" height="3.4" fill="#ff0000"/>
<path d="M2280 297.7V346.9" fill="none"/>
<rect x="2276" y="298.1" width="8" height="31.4" fill="#00ff00"/>
<path d="M2292 301.3V330.7" fill="none"/>
<rect x="2288" y="308.2" width="8" height="3.9" fill="#00ff00"/>
<path d="M2304 285.2V314.6" fill="none"/>
<rect x="2300" y="294.2" width="8" height="13.2" fill="#00ff00"/>
<path d="M2316 270.8V296.1" fill="none"/>
<rect x="2312" y="288.2" width="8" height="7.5" fill="#00ff00"/>
<path d="M2328 263.0V296.1" fill="none"/>
<rect x="2324" y="286.1" width="8" height="9.6" fill="#00ff00"/>
<path d="M2340 269.0V293.0" fill="none"/>
<rect x="2336" y="282.2" width="8" height="3.3" fill="#ff0000"/>
<path d="M2352 287.2V299.0" fill="none"/>
<path d="M2347 293.8H2357" fill="none"/>
<path d="M2364 291.1V394.5" fill="none"/>
<rect x="2360" y="296.0" width="8" height="89.5" fill="#ff0000"/>
<path d="M2376 339.3V396.6" fill="none"/>
<rect x="2372" y="366.3" width="8" height="19.2" fill="#00ff00"/>
<path d="M2388 307.3V374.5" fill="none"/>
<rect x="2384" y="312.1" width="8" height="59.4" fill="#00ff00"/>
<path d="M2400 272.9V306.0" fill="none"/>
<rect x="2396" y="288.2" width="8" height="17.4" fill="#00ff00"/>
<path d="M2412 293.0V329.9" fill="none"/>
<rect x="2408" y="299.9" width="8" height="29.6" fill="#ff0000"/>
<path d="M2424 326.8V362.8" fill="none"/>
<path d="M2419 335.4H2429" fill="none"/>
<path d="M2436 322.9V369.0" fill="none"/>
<rect x="2431" y="338.7" width="10" height="3.8" fill="#000" stroke="none"/>
<path d="M2448 326.8V493.0" fill="none"/>
<rect x="2444" y="354.0" width="8" height="131.6" fill="#ff0000"/>
<path d="M2460 477.4V522.4" fill="none"/>
<path d="M2455 499.8H2465" fill="none"/>
<path d="M2472 505.5V560.7" fill="none"/>
<rect x="2468" y="520.2" width="8" height="25.3" fill="#ff0000"/>
<path d="M2484 551.6V602.8" fill="none"/>
<rect x="2480" y="552.0" width="8" height="45.8" fill="#ff0000"/>
<path d="M2496 591.4V660.8" fill="none"/>
<rect x="2492" y="628.2" width="8" height="25.2" fill="#ff0000"/>
<path d="M2508 627.2V662.9" fill="none"/>
<rect x="2504" y="644.3" width="8" height="7.2" fill="#00ff00"/>
<path d="M2520 585.4V646.7" fill="none"/>
<rect x="2516" y="592.3" width="8" height="43.3" fill="#00ff00"/>
<path d="M2532 569.2V599.9" fill="none"/>
<rect x="2528" y="592.3" width="8" height="7.2" fill="#00ff00"/>
<path d="M2544 567.2V594.7" fill="none"/>
<path d="M2539 579.6H2549" fill="none"/>
<path d="M2556 529.0V604.9" fill="none"/>
<rect x="2552" y="559.8" width="8" height="25.9" fill="#ff0000"/>
<path d="M2568 561.0V586.8" fill="none"/>
<rect x="2564" y="574.2" width="8" height="3.6" fill="#00ff00"/>
</g>
<path d="M67 534H2567" stroke="#7878cc" stroke-width="2" fill="none"/>
<path d="M432.6 96 L2568 277.9" stroke="#a926c9" stroke-width="1.9" fill="none"/>
<path d="M228.4 493.6 L2568 687.6" stroke="#0d8fd8" stroke-width="2.2" fill="none"/>
<circle cx="167" cy="711" r="21" fill="#fff"/>
<circle cx="167" cy="711" r="17.9" fill="#e9f1fd" stroke="#2c8aee" stroke-width="4"/>
<text transform="translate(167.3,718.8) scale(0.9,1)" text-anchor="middle" fill="#2f5fc4" style="font-size:23.6px">D</text>
<circle cx="731" cy="711" r="21" fill="#fff"/>
<circle cx="731" cy="711" r="17.9" fill="#e9f1fd" stroke="#2c8aee" stroke-width="4"/>
<text transform="translate(731.3,718.8) scale(0.9,1)" text-anchor="middle" fill="#2f5fc4" style="font-size:23.6px">D</text>
<circle cx="1475" cy="711" r="21" fill="#fff"/>
<circle cx="1475" cy="711" r="17.9" fill="#e9f1fd" stroke="#2c8aee" stroke-width="4"/>
<text transform="translate(1475.3,718.8) scale(0.9,1)" text-anchor="middle" fill="#2f5fc4" style="font-size:23.6px">D</text>
<circle cx="2255" cy="711" r="21" fill="#fff"/>
<circle cx="2255" cy="711" r="17.9" fill="#e9f1fd" stroke="#2c8aee" stroke-width="4"/>
<text transform="translate(2255.3,718.8) scale(0.9,1)" text-anchor="middle" fill="#2f5fc4" style="font-size:23.6px">D</text>
<path d="M551 691.2 L566.2 697.4 Q566.9 697.7 566.9 698.8 V723.3 Q566.9 726.8 563.4 726.8 H538.6 Q535.1 726.8 535.1 723.3 V698.8 Q535.1 697.7 535.8 697.4 Z" fill="#fff" stroke="#fff" stroke-width="6.6" stroke-linejoin="round"/>
<path d="M551 691.2 L566.2 697.4 Q566.9 697.7 566.9 698.8 V723.3 Q566.9 726.8 563.4 726.8 H538.6 Q535.1 726.8 535.1 723.3 V698.8 Q535.1 697.7 535.8 697.4 Z" fill="#e8f5e9" stroke="#0ba145" stroke-width="4.2" stroke-linejoin="round"/>
<text transform="translate(550.7,718.8) scale(0.84,1)" text-anchor="middle" fill="#168a3e" style="font-size:23.6px">E</text>
<path d="M1355 691.2 L1370.2 697.4 Q1370.9 697.7 1370.9 698.8 V723.3 Q1370.9 726.8 1367.4 726.8 H1342.6 Q1339.1 726.8 1339.1 723.3 V698.8 Q1339.1 697.7 1339.8 697.4 Z" fill="#fff" stroke="#fff" stroke-width="6.6" stroke-linejoin="round"/>
<path d="M1355 691.2 L1370.2 697.4 Q1370.9 697.7 1370.9 698.8 V723.3 Q1370.9 726.8 1367.4 726.8 H1342.6 Q1339.1 726.8 1339.1 723.3 V698.8 Q1339.1 697.7 1339.8 697.4 Z" fill="#e8f5e9" stroke="#0ba145" stroke-width="4.2" stroke-linejoin="round"/>
<text transform="translate(1354.7,718.8) scale(0.84,1)" text-anchor="middle" fill="#168a3e" style="font-size:23.6px">E</text>
<path d="M2123 691.2 L2138.2 697.4 Q2138.9 697.7 2138.9 698.8 V723.3 Q2138.9 726.8 2135.4 726.8 H2110.6 Q2107.1 726.8 2107.1 723.3 V698.8 Q2107.1 697.7 2107.8 697.4 Z" fill="#fff" stroke="#fff" stroke-width="6.6" stroke-linejoin="round"/>
<path d="M2123 691.2 L2138.2 697.4 Q2138.9 697.7 2138.9 698.8 V723.3 Q2138.9 726.8 2135.4 726.8 H2110.6 Q2107.1 726.8 2107.1 723.3 V698.8 Q2107.1 697.7 2107.8 697.4 Z" fill="#e8f5e9" stroke="#0ba145" stroke-width="4.2" stroke-linejoin="round"/>
<text transform="translate(2122.7,718.8) scale(0.84,1)" text-anchor="middle" fill="#168a3e" style="font-size:23.6px">E</text>
<rect x="17" y="9" width="660" height="36" fill="#fff" fill-opacity="0.72"/>
<rect x="17" y="45" width="180" height="110" fill="#fff" fill-opacity="0.72"/>
<text x="23.4" y="34.6" fill="#969cb4" >Jan 28</text>
<text x="119.8" y="34.6" fill="#969cb4" >O</text>
<text x="139.5" y="34.6" fill="#0a9f4c" >229.39</text>
<text x="235.7" y="34.6" fill="#969cb4" >H</text>
<text x="253.7" y="34.6" fill="#0a9f4c" >231.86</text>
<text x="349.7" y="34.6" fill="#969cb4" >L</text>
<text x="363.2" y="34.6" fill="#0a9f4c" >228.43</text>
<text x="459.6" y="34.6" fill="#969cb4" >C</text>
<text x="477" y="34.6" fill="#0a9f4c" >230.35</text>
<text x="573.5" y="34.6" fill="#969cb4" >Vol</text>
<text x="605.3" y="34.6" fill="#0a9f4c" >5.21M</text>
<text x="23.4" y="70.4" fill="#f2a3de" >SMA 20</text>
<circle cx="110.4" cy="63.10000000000001" r="1.5" fill="#8b90aa"/>
<text x="123.3" y="70.4" fill="#f2a3de" >243.85</text>
<text x="23.4" y="106.4" fill="#ffa466" >SMA 50</text>
<circle cx="110.4" cy="99.10000000000001" r="1.5" fill="#8b90aa"/>
<text x="123.3" y="106.4" fill="#ffa466" >246.52</text>
<text x="23.4" y="142.5" fill="#efdba3" >SMA 200</text>
<circle cx="122.2" cy="135.2" r="1.5" fill="#8b90aa"/>
<text x="135" y="142.5" fill="#efdba3" >254.61</text>
<text x="2588.8" y="21.2" fill="#848484" >300.00</text>
<text x="2588.8" y="101.2" fill="#848484" >290.00</text>
<text x="2588.8" y="181.2" fill="#848484" >280.00</text>
<text x="2588.8" y="261.2" fill="#848484" >270.00</text>
<text x="2588.8" y="341.2" fill="#848484" >260.00</text>
<text x="2588.8" y="421.2" fill="#848484" >250.00</text>
<text x="2588.8" y="501.2" fill="#848484" >240.00</text>
<text x="2588.8" y="661.2" fill="#848484" >220.00</text>
<text x="2588.8" y="741.2" fill="#848484" >210.00</text>
<rect x="2585" y="559.2" width="72" height="23.6" fill="#ffee00"/>
<text x="2589.2" y="578.6" fill="#1c2340" style="font-weight:bold;font-size:21.1px">230.35</text>
<text x="21.3" y="710.5" fill="#848484" >10M</text>
<text x="21.3" y="680.5" fill="#848484" >20M</text>
<text x="21.3" y="650.5" fill="#848484" >30M</text>
<text x="21.3" y="620.5" fill="#848484" >40M</text>
<text x="66.5" y="771.3" fill="#848484" >Apr</text>
<text x="334.5" y="771.3" fill="#848484" text-anchor="middle">May</text>
<text x="586.5" y="771.3" fill="#848484" text-anchor="middle">Jun</text>
<text x="826.5" y="771.3" fill="#848484" text-anchor="middle">Jul</text>
<text x="1090.5" y="771.3" fill="#848484" text-anchor="middle">Aug</text>
<text x="1342.5" y="771.3" fill="#848484" text-anchor="middle">Sep</text>
<text x="1594.5" y="771.3" fill="#848484" text-anchor="middle">Oct</text>
<text x="1870.5" y="771.3" fill="#848484" text-anchor="middle">Nov</text>
<text x="2098.5" y="771.3" fill="#848484" text-anchor="middle">Dec</text>
<text x="2362.5" y="771.3" fill="#848484" text-anchor="middle">2026</text>
<path d="M0 787 A8 8 0 0 0 8 795 H0Z" fill="#e3e3e8"/>
<path d="M2668 787 A8 8 0 0 1 2660 795 H2668Z" fill="#e3e3e8"/>
</svg></body></html>
